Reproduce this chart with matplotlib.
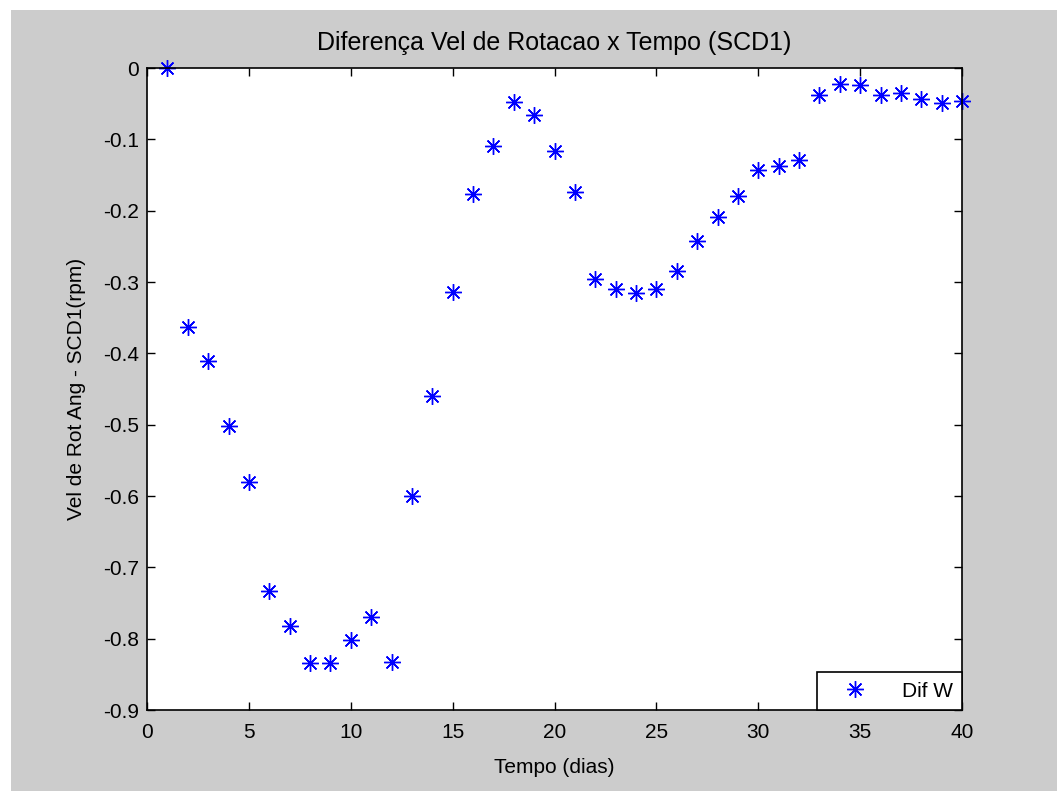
import matplotlib.pyplot as plt
from matplotlib.patches import Rectangle

dias = list(range(1, 41))
dif_w = [0.0, -0.363, -0.411, -0.502, -0.580, -0.733, -0.782, -0.834, -0.834, -0.802,
         -0.770, -0.833, -0.600, -0.460, -0.314, -0.177, -0.109, -0.048, -0.066, -0.116,
         -0.174, -0.296, -0.310, -0.315, -0.310, -0.285, -0.243, -0.209, -0.179, -0.143,
         -0.137, -0.129, -0.038, -0.022, -0.024, -0.038, -0.035, -0.043, -0.049, -0.046]
xticks = [0, 5, 10, 15, 20, 25, 30, 35, 40]
yticks = [0, -0.1, -0.2, -0.3, -0.4, -0.5, -0.6, -0.7, -0.8, -0.9]

plt.rcParams['font.family'] = ['Liberation Sans', 'DejaVu Sans']
plt.rcParams['font.size'] = 15

fig = plt.figure(figsize=(10.57, 7.91), dpi=100, facecolor='white')
fig.patches.append(Rectangle((11 / 1057, 0), 1, 781 / 791, transform=fig.transFigure,
                             facecolor='#cccccc', edgecolor='none', zorder=-1))
ax = fig.add_axes([147 / 1057, 81 / 791, 815 / 1057, 642 / 791])
# MATLAB-style asterisk marker
ax.plot(dias, dif_w, linestyle='none', marker=(8, 2, 0), color='blue', markersize=12,
        markeredgewidth=1.0, label='Dif W', clip_on=False)
ax.set_xlim(0, 40)
ax.set_ylim(-0.9, 0)
ax.set_xticks(xticks)
ax.set_yticks(yticks)
ax.set_yticklabels(['0', '-0.1', '-0.2', '-0.3', '-0.4', '-0.5', '-0.6', '-0.7', '-0.8', '-0.9'])
ax.tick_params(direction='in', top=True, right=True, length=6, width=1)
ax.tick_params(axis='x', pad=9)
ax.tick_params(axis='y', pad=6)
for s in ax.spines.values():
    s.set_linewidth(1.2)
ax.set_title('Diferença Vel de Rotacao x Tempo (SCD1)', pad=13)
ax.set_xlabel('Tempo (dias)', labelpad=12)
ax.set_ylabel('Vel de Rot Ang - SCD1(rpm)', labelpad=12)
leg = ax.legend(loc='lower right', fancybox=False, edgecolor='black', framealpha=1,
                borderaxespad=0, handletextpad=0.9, borderpad=0.45, handlelength=2.7)
leg.get_frame().set_linewidth(1.2)
plt.savefig('out.png', dpi=100, facecolor=fig.get_facecolor())
plt.close()
